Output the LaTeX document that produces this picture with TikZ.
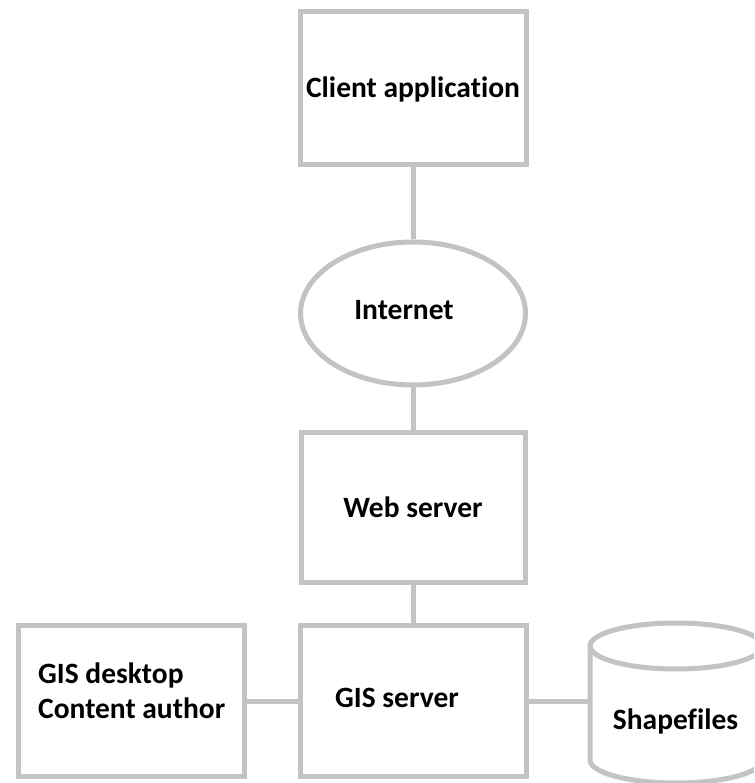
\documentclass[tikz,border=0pt]{standalone}
\usepackage{fontspec}
\setmainfont{Carlito}[Ligatures=NoCommon]
\usetikzlibrary{shapes.geometric}
\definecolor{edgegray}{RGB}{195,195,195}
\begin{document}
\begin{tikzpicture}[x=1pt,y=1pt,
  lblfont/.style={font=\bfseries\fontsize{29.5}{35}\selectfont, text=black},
  txt/.style={lblfont, inner sep=0pt, text height=18.5pt, text depth=0pt},
  box/.style={draw=edgegray, line width=5pt, rectangle, fill=white,
              minimum width=226pt, minimum height=151pt, inner sep=0pt, txt},
  link/.style={draw=edgegray, line width=5pt}]
\clip (0,0) rectangle (754,783);
\fill[white] (0,0) rectangle (754,783);

% main vertical chain
\node[box, minimum height=153pt] (client) at (413,694.5) {Client application};
\node[draw=edgegray, line width=5pt, ellipse, fill=white,
      minimum width=225pt, minimum height=143pt, inner sep=0pt,
      label={[txt,xshift=-9pt,yshift=3pt]center:Internet}] (internet) at (413,469.5) {};
\node[box, minimum width=224pt, minimum height=150pt] (web) at (413,275) {Web server};
\node[box, label={[txt,xshift=-16pt,yshift=3pt]center:GIS server}] (gis) at (413,81.5) {};

% desktop client on the left
\node[box] (desk) at (131,81.5) {};
\node[lblfont, inner sep=0pt, anchor=base west, align=left]
     (deskText) at (38,64) {GIS desktop\\Content author};

% shapefile storage drum on the right
\draw[link] (676,137) ellipse [x radius=86, y radius=23];
\draw[link] (590,137) -- (590,23) arc[start angle=180, end angle=360, x radius=86, y radius=23] -- (762,137);
\coordinate (drumL) at (590,81.5);
\node[txt] (shp) at (675.5,63) {Shapefiles};

% connectors
\draw[link] (client.south) -- (internet.north);
\draw[link] (internet.south) -- (web.north);
\draw[link] (web.south) -- (gis.north);
\draw[link] (desk.east) -- (gis.west);
\draw[link] (gis.east) -- (drumL);
\end{tikzpicture}
\end{document}
